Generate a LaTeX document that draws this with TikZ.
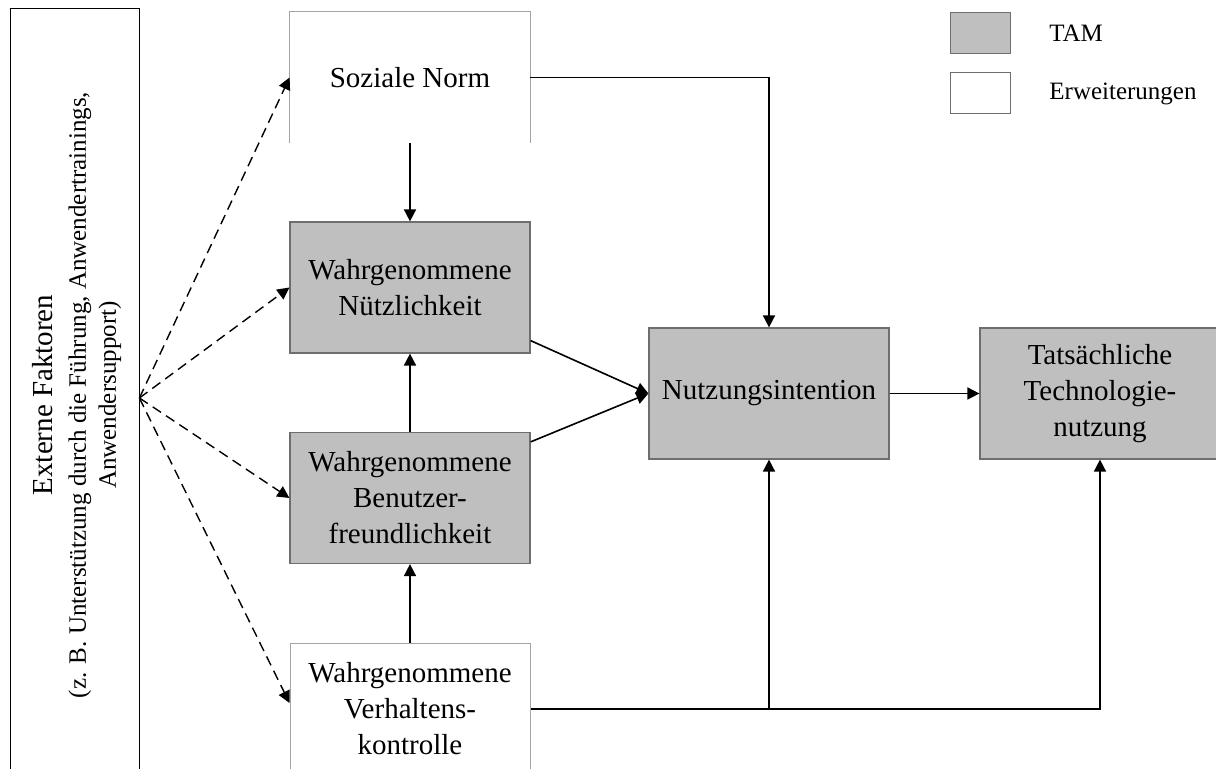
\documentclass[tikz,border=0pt]{standalone}
\usepackage{fontspec}
\setmainfont{Liberation Serif}
\usetikzlibrary{arrows.meta,calc}

\definecolor{tamgray}{RGB}{191,191,191}
\definecolor{edgegray}{RGB}{110,110,110}
\definecolor{extedge}{RGB}{165,165,165}

\begin{document}
\begin{tikzpicture}[x=0.5pt,y=-0.5pt,
  box/.style={minimum width=120pt,minimum height=65.5pt,inner sep=0pt,
    align=center,font=\fontsize{14.5}{18}\selectfont},
  tam/.style={box,fill=tamgray,draw=edgegray,line width=0.6pt},
  ext/.style={box,fill=white},
  extedge/.style={draw=extedge,line width=0.5pt},
  tip/.style={-{Triangle[length=6pt,width=6pt]}},
  conn/.style={tip,line width=0.8pt},
  dconn/.style={tip,line width=0.7pt,dash pattern=on 5pt off 3pt},
  legbox/.style={minimum width=30pt,minimum height=20.5pt,inner sep=0pt,
    draw=edgegray,line width=0.5pt},
  legtext/.style={anchor=base west,inner sep=0pt,font=\fontsize{12.5}{15}\selectfont},
]
\useasboundingbox (0,0) rectangle (1216,769);
\clip (0,0) rectangle (1216,769);

% external factors column
\node[draw=black,line width=0.4pt,minimum width=64.5pt,minimum height=390pt,inner sep=0pt]
  (ef) at (74.5,398) {};
\node[rotate=90,align=center,inner sep=0pt,font=\fontsize{12.5}{15}\selectfont]
  (eftext) at (77,395)
  {{\fontsize{14.5}{15}\selectfont Externe Faktoren}\\[1.5pt]
   (z. B. Unterstützung durch die Führung, Anwendertrainings,\\
   Anwendersupport)};
\coordinate (fan) at (ef.east);

% model constructs
\node[ext] (sn) at (410,77.5) {Soziale Norm};
\draw[extedge] (sn.south west) -- (sn.north west) -- (sn.north east) -- (sn.south east);
\node[tam] (nw) at (410,287.5) {Wahrgenommene\\Nützlichkeit};
\node[tam] (bf) at (410,498) {Wahrgenommene\\Benutzer-\\freundlichkeit};
\node[ext,extedge] (vk) at (410,709) {Wahrgenommene\\Verhaltens-\\kontrolle};
\node[tam] (ni) at (769,393.5) {Nutzungsintention};
\node[tam] (tn) at (1100,393.5) {Tatsächliche\\Technologie-\\nutzung};

% legend
\node[legbox,fill=tamgray] (legtam) at (980,33.5) {};
\node[legbox,fill=white] (legext) at (980,93.5) {};
\node[legtext] (legtamtext) at (1049,42) {TAM};
\node[legtext] (legexttext) at (1049,100) {Erweiterungen};

% influence of external factors
\draw[dconn] (fan) -- (sn.west);
\draw[dconn] (fan) -- (nw.west);
\draw[dconn] (fan) -- (bf.west);
\draw[dconn] (fan) -- ($(vk.west)+(0,-6)$);

% relations between constructs
\draw[conn] (sn) -- (nw);
\draw[conn] (sn.east) -| (ni.north);
\draw[conn] ($(nw.south east)+(0,-13)$) -- (ni.west);
\draw[conn] ($(bf.north east)+(0,10)$) -- (ni.west);
\draw[conn] (ni) -- (tn);
\draw[conn] (bf) -- (nw);
\draw[conn] (vk) -- (bf);
\coordinate (vkjoin) at (ni.south |- vk.east);
\draw[conn] (vk.east) -| (tn.south);
\draw[conn] (vkjoin) -- (ni.south);
\end{tikzpicture}
\end{document}
